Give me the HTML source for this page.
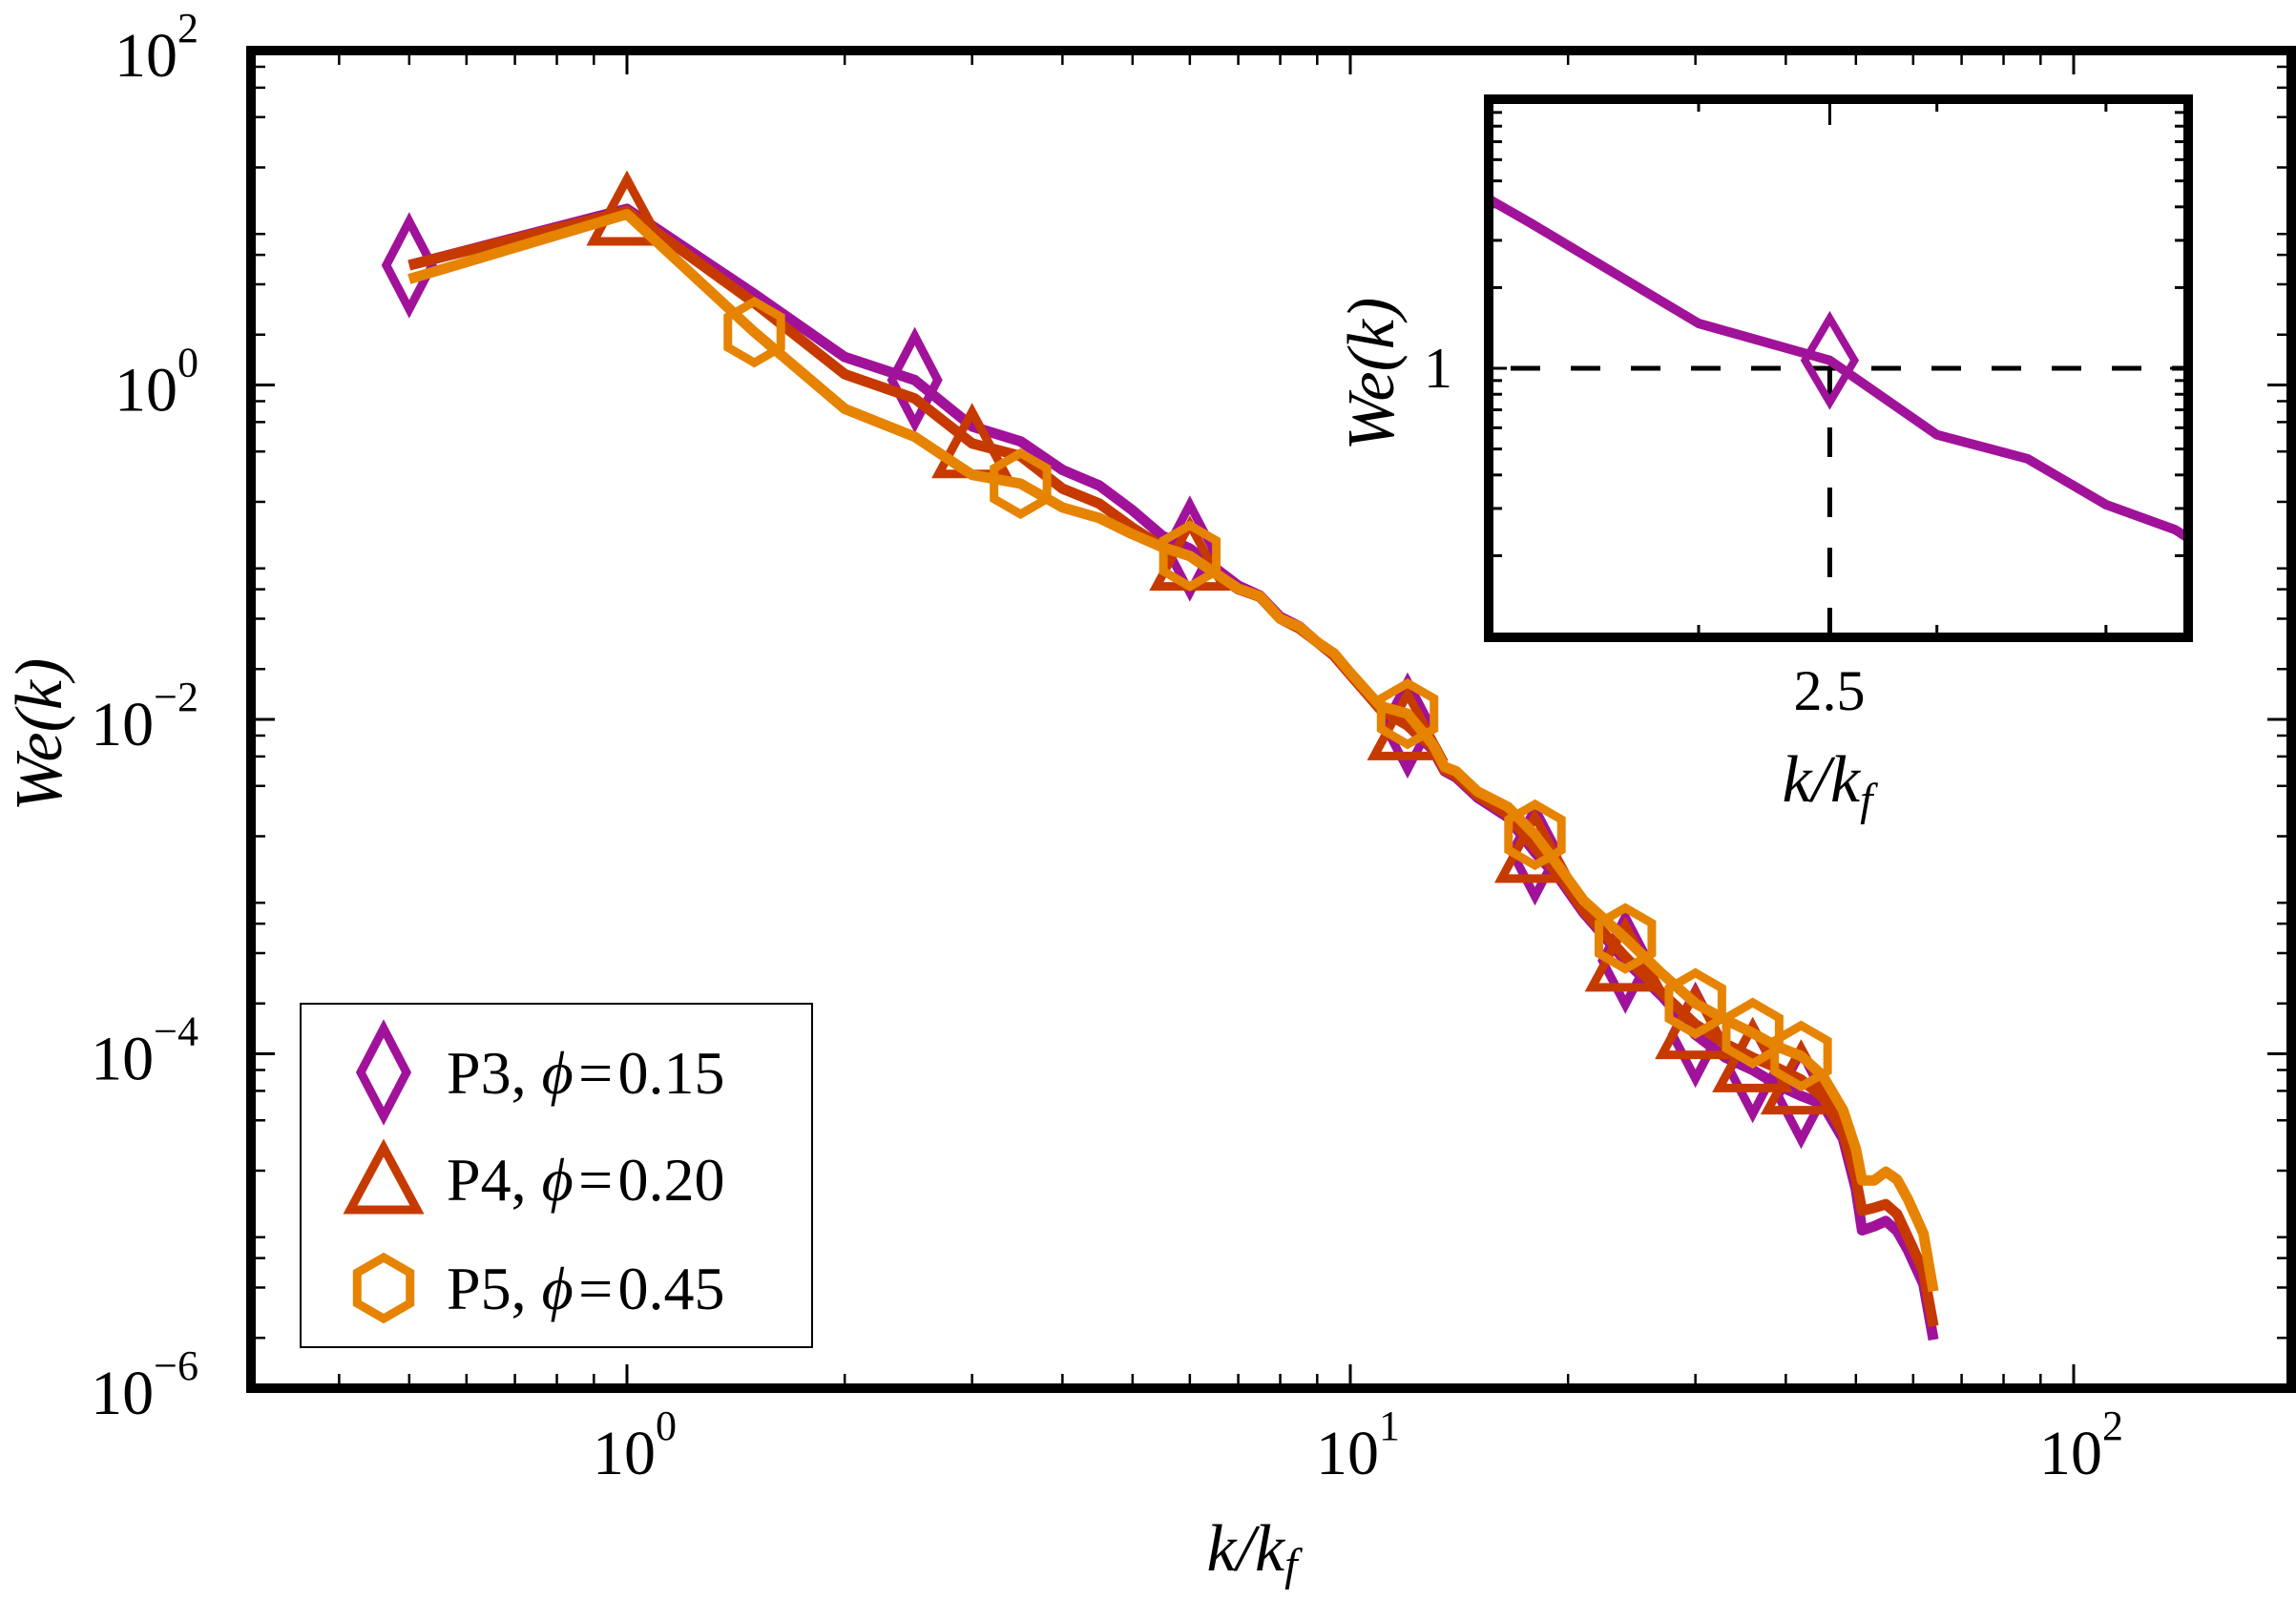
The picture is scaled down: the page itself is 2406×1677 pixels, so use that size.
<!DOCTYPE html>
<html><head><meta charset="utf-8"><style>
html,body{margin:0;padding:0;background:#fff;width:2406px;height:1677px;overflow:hidden;}
svg{display:block;}
text{font-family:"Liberation Serif","DejaVu Serif",serif;fill:#000;}
</style></head><body>
<svg id="chart" xmlns="http://www.w3.org/2000/svg" width="2406" height="1677" viewBox="0 0 2406 1677" overflow="hidden">
<rect x="0" y="0" width="2406" height="1677" fill="#fff"/>
<defs>
<clipPath id="mainClip"><rect x="263" y="53" width="2138" height="1402"/></clipPath>
<clipPath id="insetClip"><rect x="1560" y="104" width="733" height="564"/></clipPath>
</defs>
<g id="mainTicks"></g>
<g id="mainSeries" clip-path="url(#mainClip)"></g>
<rect x="263" y="53" width="2138" height="1402" fill="none" stroke="#000" stroke-width="10"/>
<g id="tickLabels"></g>
<text transform="translate(64,770) rotate(-90)" text-anchor="middle" font-size="70" font-style="italic">We(k)</text>
<text x="1312" y="1646" text-anchor="middle" font-size="70" font-style="italic">k/k<tspan font-size="48" dy="10">f</tspan></text>
<g>
<rect x="315" y="1052" width="536" height="360" fill="#fff" stroke="#000" stroke-width="2"/>
<g id="legendMarkers"></g>
<text x="468" y="1146" font-size="64">P3, <tspan font-style="italic">ϕ</tspan>&#8202;=&#8202;0.15</text>
<text x="468" y="1258" font-size="64">P4, <tspan font-style="italic">ϕ</tspan>&#8202;=&#8202;0.20</text>
<text x="468" y="1372" font-size="64">P5, <tspan font-style="italic">ϕ</tspan>&#8202;=&#8202;0.45</text>
</g>
<g>
<rect x="1560" y="104" width="733" height="564" fill="#fff"/>
<g id="insetTicks"></g>
<g id="insetSeries" clip-path="url(#insetClip)"></g>
<rect x="1560" y="104" width="733" height="564" fill="none" stroke="#000" stroke-width="10"/>
<text x="1522" y="406" text-anchor="end" font-size="60">1</text>
<text x="1917" y="744" text-anchor="middle" font-size="60">2.5</text>
<text x="1915" y="840" text-anchor="middle" font-size="70" font-style="italic">k/k<tspan font-size="48" dy="14">f</tspan></text>
<text transform="translate(1460,392) rotate(-90)" text-anchor="middle" font-size="70" font-style="italic">We(k)</text>
</g>
</svg>
<script>
const kVals = [0.5,1,1.5,2,2.5,3,3.5,4,4.5,5,5.5,6,7,7.5,8,8.5,9,9.5,10,10.5,11,12,13,13.5,14,15,16.5,18,19.5,21,24,27,30,33,36,39,42,45,48,50,51,53,55,57,59,62,64];
const p3Vals = [5.2,11.3,3.5,1.47,1.07,0.565,0.46,0.31,0.25,0.178,0.125,0.105,0.063,0.055,0.041,0.036,0.029,0.024,0.0185,0.0145,0.0115,0.0092,0.0066,0.0049,0.0045,0.0034,0.0026,0.0016,0.0011,0.0007,0.00036,2.2e-4,1.3e-4,9.5e-5,8.0e-5,6.5e-5,5.6e-5,5.0e-5,3.1e-5,1.55e-5,8.8e-6,9.3e-6,1.0e-5,8.7e-6,6.7e-6,4.2e-6,1.95e-6];
const p4Vals = [5.2,11.0,3.1,1.16,0.83,0.447,0.376,0.24,0.195,0.14,0.108,0.095,0.06,0.054,0.040,0.035,0.029,0.024,0.0185,0.0145,0.0115,0.0092,0.0068,0.005,0.0046,0.0035,0.0027,0.0017,0.00115,0.00072,0.00038,2.3e-4,1.5e-4,1.15e-4,9.5e-5,8.2e-5,7.0e-5,5.5e-5,3.4e-5,1.8e-5,1.15e-5,1.2e-5,1.26e-5,1.1e-5,8.0e-6,5.0e-6,2.35e-6];
const p5Vals = [4.3,10.5,2.07,0.72,0.49,0.29,0.257,0.185,0.16,0.128,0.107,0.095,0.0606,0.0545,0.040,0.0358,0.029,0.0248,0.019,0.015,0.012,0.0108,0.0071,0.0052,0.0049,0.0037,0.0030,0.00204,0.00129,0.00083,0.00049,3.0e-4,2.0e-4,1.6e-4,1.33e-4,1.1e-4,9.7e-5,7.4e-5,4.6e-5,2.7e-5,1.75e-5,1.75e-5,1.97e-5,1.77e-5,1.35e-5,8.4e-6,3.8e-6];
const p3MarkerK = [0.5,2.5,6,12,18,24,30,36,42];
const p4MarkerK = [1,3,6,12,18,24,30,36,42];
const p5MarkerK = [1.5,3.5,6,12,18,24,30,36,42];
const yMajorExp = [-6,-4,-2,0,2];
const xMajorExp = [0,1,2];
const insetXTicks = [2,2.5,3,4];
const insetMarkerK = [2.5];

const NS = "http://www.w3.org/2000/svg";
const lg = Math.log10;
function X(k){return 657 + 758*lg(k);}
function Y(v){return 53 + 175.25*(2 - lg(v));}
function IX(k){return 1780 + 1418*lg(k/2);}
function IY(v){return 386 - 281*lg(v);}
function mk(tag, attrs, parent){const e=document.createElementNS(NS,tag);for(const a in attrs)e.setAttribute(a,attrs[a]);parent.appendChild(e);return e;}

const mainTicks=document.getElementById('mainTicks');
for(let n=-6;n<=2;n++){
  for(const m of [1,2,4,6,8]){
    const v=m*Math.pow(10,n);
    if(v>100.0001||v<1e-6*0.9999) continue;
    const y=Y(v);
    const major=(m===1 && n%2===0);
    if(m===1 && !major) continue;
    const len=major?20:10;
    const t1=mk('line',{x1:268,x2:268+len,y1:y,y2:y,stroke:'#000','stroke-width':major?3:2.5},mainTicks);
    
    
    const t2=mk('line',{x1:2396,x2:2396-len,y1:y,y2:y,stroke:'#000','stroke-width':major?3:2.5},mainTicks);
    
    
  }
}
for(let n=-1;n<=2;n++){
  for(let m=1;m<=9;m++){
    const k=m*Math.pow(10,n);
    const x=X(k);
    if(x<268||x>2396) continue;
    const major=(m===1);
    const len=major?20:10;
    const t1=mk('line',{x1:x,x2:x,y1:1450,y2:1450-len,stroke:'#000','stroke-width':major?3:2.5},mainTicks);
    
    
    const t2=mk('line',{x1:x,x2:x,y1:58,y2:58+len,stroke:'#000','stroke-width':major?3:2.5},mainTicks);
    
    
  }
}
const tl=document.getElementById('tickLabels');
for(const e of yMajorExp){
  const y=Y(Math.pow(10,e));
  const t=mk('text',{x:208,y:y+27,'text-anchor':'end','font-size':66},tl);
  
  
  t.textContent='10';
  const s=mk('tspan',{'font-size':44,dy:-36},t);
  s.textContent=(e<0?'\u2212':'')+Math.abs(e);
}
for(const e of xMajorExp){
  const x=X(Math.pow(10,e));
  const t=mk('text',{x:x-36,y:1545,'font-size':66},tl);
  
  
  t.textContent='10';
  const s=mk('tspan',{'font-size':44,dy:-36},t);
  s.textContent=String(e);
}

function markerPath(type,cx,cy){
  if(type==='diamond') return `M${cx},${cy-46} L${cx+24},${cy} L${cx},${cy+46} L${cx-24},${cy} Z`;
  if(type==='triangle') return `M${cx},${cy-33} L${cx+35},${cy+32} L${cx-35},${cy+32} Z`;
  let d='';
  for(let i=0;i<6;i++){const a=Math.PI/2+i*Math.PI/3;d+=(i?'L':'M')+(cx+32*Math.cos(a))+','+(cy-32*Math.sin(a))+' ';}
  return d+'Z';
}
const series=[
  {name:'p3',vals:p3Vals,marks:p3MarkerK,color:'#A1129A',type:'diamond'},
  {name:'p4',vals:p4Vals,marks:p4MarkerK,color:'#C63A00',type:'triangle'},
  {name:'p5',vals:p5Vals,marks:p5MarkerK,color:'#E68300',type:'hexagon'}
];
const ms=document.getElementById('mainSeries');
for(const s of series){
  const g=mk('g',{},ms);
  
  
  const pts=kVals.map((k,i)=>X(k).toFixed(1)+','+Y(s.vals[i]).toFixed(1)).join(' ');
  const pl=mk('polyline',{points:pts,fill:'none',stroke:s.color,'stroke-width':11,'stroke-linejoin':'round'},g);
  
  
  for(const k of s.marks){
    const i=kVals.indexOf(k);
    const p=mk('path',{d:markerPath(s.type,X(k),Y(s.vals[i])),fill:'none',stroke:s.color,'stroke-width':9,'stroke-linejoin':'miter'},g);
    
    
  }
}
const lm=document.getElementById('legendMarkers');
[[series[0],1124],[series[1],1236],[series[2],1350]].forEach(([s,y])=>{
  const p=mk('path',{d:markerPath(s.type,402,y),fill:'none',stroke:s.color,'stroke-width':9},lm);
  
  
});
const it=document.getElementById('insetTicks');
for(const n of [-1,0]){
  for(let m=1;m<=9;m++){
    const v=m*Math.pow(10,n);
    const y=IY(v);
    if(y<108||y>664) continue;
    const major=(v===1);
    const len=major?14:9;
    const a=mk('line',{x1:1565,x2:1565+len,y1:y,y2:y,stroke:'#000','stroke-width':3},it);
    
    
    const b=mk('line',{x1:2288,x2:2288-len,y1:y,y2:y,stroke:'#000','stroke-width':3},it);
    
    
  }
}
for(const k of insetXTicks){
  const x=IX(k);
  const len=(k===2.5)?22:8;
  const a=mk('line',{x1:x,x2:x,y1:663,y2:663-len,stroke:'#000','stroke-width':3},it);
  
  
  const b=mk('line',{x1:x,x2:x,y1:109,y2:109+len,stroke:'#000','stroke-width':3},it);
  
  
}
const is=document.getElementById('insetSeries');
const hd=mk('line',{x1:1560,x2:2293,y1:IY(1),y2:IY(1),stroke:'#000','stroke-width':5,'stroke-dasharray':'31 32','stroke-dashoffset':'-23'},is);


const vd=mk('line',{x1:IX(2.5),x2:IX(2.5),y1:668,y2:IY(1),stroke:'#000','stroke-width':5,'stroke-dasharray':'31 32'},is);


const ipts=kVals.map((k,i)=>IX(k).toFixed(1)+','+IY(p3Vals[i]).toFixed(1)).join(' ');
const ipl=mk('polyline',{points:ipts,fill:'none',stroke:'#A1129A','stroke-width':10,'stroke-linejoin':'round'},is);


for(const k of insetMarkerK){
  const i=kVals.indexOf(k);
  const cx=IX(k), cy=IY(p3Vals[i]);
  const p=mk('path',{d:`M${cx},${cy-44} L${cx+26},${cy} L${cx},${cy+44} L${cx-26},${cy} Z`,fill:'none',stroke:'#A1129A','stroke-width':8},is);
  
  
}
</script>
</body></html>
